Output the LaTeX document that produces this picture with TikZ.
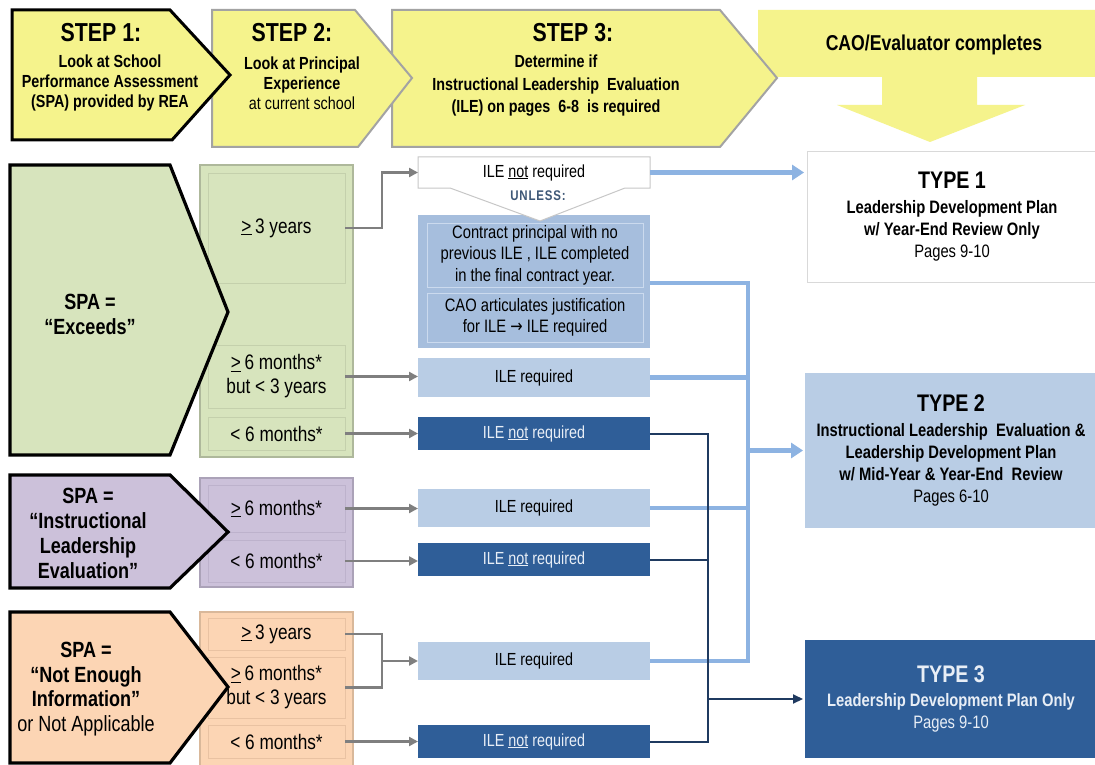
\documentclass[tikz,border=0pt]{standalone}
\usepackage{fontspec}
\setmainfont{Liberation Sans}[FakeStretch=0.82]
\newfontfamily\symfont{DejaVu Sans}[FakeStretch=0.82]
\usetikzlibrary{arrows.meta}

\newcommand\fsz[2]{\fontsize{#1}{#2}\selectfont}
\newcommand\atleast{\underline{>}\,}

\definecolor{stepyellow}{HTML}{F5F38C}
\definecolor{stepedge}{HTML}{A3A3A3}
\definecolor{greenfill}{HTML}{D7E4BD}
\definecolor{greenedge}{HTML}{AEB89B}
\definecolor{greeninner}{HTML}{C4D0AC}
\definecolor{purplefill}{HTML}{CCC1DA}
\definecolor{purpleedge}{HTML}{ABA2B8}
\definecolor{purpleinner}{HTML}{BDB2CC}
\definecolor{orangefill}{HTML}{FCD5B4}
\definecolor{orangeedge}{HTML}{D9B89A}
\definecolor{orangeinner}{HTML}{E9C2A2}
\definecolor{lightblue}{HTML}{B9CDE5}
\definecolor{midblue}{HTML}{A6BEDD}
\definecolor{midblueedge}{HTML}{CBDAEE}
\definecolor{darkblue}{HTML}{2F5E98}
\definecolor{paletext}{HTML}{E8EEF6}
\definecolor{busblue}{HTML}{8DB3E2}
\definecolor{busdark}{HTML}{1F3A60}
\definecolor{arrowgray}{HTML}{7F7F7F}
\definecolor{unlesscol}{HTML}{3E5877}

\begin{document}
\begin{tikzpicture}[x=1pt,y=-1pt,
  every node/.style={inner sep=0pt,outer sep=0pt,align=center},
  rbox/.style={rectangle},
  steptitle/.style={font=\fsz{26}{30}\bfseries},
  stepbody/.style={font=\fsz{17.5}{20}\bfseries},
  spatext/.style={font=\fsz{22}{25}\bfseries},
  yrs/.style={font=\fsz{21}{24}},
  iletext/.style={font=\fsz{17.5}{21.5}},
  typetext/.style={font=\fsz{18}{22}},
  greencol/.style={rbox,fill=greenfill,draw=greenedge,line width=1.2pt},
  greencell/.style={rbox,fill=greenfill,draw=greeninner,line width=1pt,yrs},
  purplecol/.style={rbox,fill=purplefill,draw=purpleedge,line width=1.2pt},
  purplecell/.style={rbox,fill=purplefill,draw=purpleinner,line width=1pt,yrs},
  orangecol/.style={rbox,fill=orangefill,draw=orangeedge,line width=1.2pt},
  orangecell/.style={rbox,fill=orangefill,draw=orangeinner,line width=1pt,yrs},
  ilereq/.style={rbox,fill=lightblue,iletext,minimum width=232pt},
  ilenot/.style={rbox,fill=darkblue,text=paletext,iletext,minimum width=232pt},
  spaedge/.style={draw=black,line width=3.2pt,line join=miter},
  grayarrow/.style={draw=arrowgray,line width=2.8pt,line join=miter,
    -{Triangle[length=9pt,width=9pt]}},
  grayline/.style={draw=arrowgray,line width=2.8pt,line join=miter},
  busline/.style={draw=busblue,line width=4.5pt,line join=miter},
  busarrow/.style={busline,-{Triangle[length=12pt,width=15pt]}},
  darkline/.style={draw=busdark,line width=2pt,line join=miter},
  darkarrow/.style={darkline,-{Triangle[length=10pt,width=9pt]}}
]
\clip (0,0) rectangle (1095,765);
\fill[white] (0,0) rectangle (1095,765);

% ---------- header: evaluator banner with its down arrow ----------
\fill[stepyellow] (758,10) -- (1100,10) -- (1100,77) -- (977,77) -- (977,105)
  -- (1025,105) -- (930,142) -- (837,105) -- (882,105) -- (882,77)
  -- (758,77) -- cycle;
\node[font=\fsz{21.5}{25}\bfseries] (cao) at (934,45) {CAO/Evaluator completes};

% ---------- header: the three steps ----------
\filldraw[fill=stepyellow,draw=stepedge,line width=2pt,line join=miter]
  (392,10) -- (720,10) -- (777,78) -- (720,147) -- (392,147) -- cycle;
\filldraw[fill=stepyellow,draw=stepedge,line width=2pt,line join=miter]
  (212,10) -- (355,10) -- (412,78) -- (358,147) -- (212,147) -- cycle;
\filldraw[fill=stepyellow,draw=black,line width=3pt,line join=miter]
  (12,10) -- (170,10) -- (230,75) -- (172,140) -- (12,140) -- cycle;

\node[steptitle] (s1title) at (101,33) {STEP 1:};
\node[stepbody] (s1body) at (110,83) {Look at School\\Performance Assessment\\(SPA) provided by REA};
\node[steptitle] (s2title) at (292,33) {STEP 2:};
\node[stepbody] (s2body) at (302,83) {Look at Principal\\Experience\\{\mdseries at current school}};
\node[steptitle] (s3title) at (573,33) {STEP 3:};
\node[stepbody,font=\fsz{17.5}{22.5}\bfseries] (s3body) at (556,86)
  {Determine if\\Instructional Leadership\ \ Evaluation\\(ILE) on pages\ \ 6-8\ \ is required};

% ---------- experience columns ----------
\node[greencol,minimum width=153pt,minimum height=292pt] (gcol) at (276.5,311) {};
\node[greencell,minimum width=137pt,minimum height=110pt] (g1) at (276.5,228) {\atleast 3 years};
\node[greencell,minimum width=137pt,minimum height=63pt] (g2) at (276.5,376.5) {\atleast 6 months*\\but < 3 years};
\node[greencell,minimum width=137pt,minimum height=33pt] (g3) at (276.5,433.5) {< 6 months*};

\node[purplecol,minimum width=153pt,minimum height=109pt] (pcol) at (276.5,532.5) {};
\node[purplecell,minimum width=137pt,minimum height=47pt] (p1) at (276.5,508.5) {\atleast 6 months*};
\node[purplecell,minimum width=137pt,minimum height=42pt] (p2) at (276.5,561) {< 6 months*};

\node[orangecol,minimum width=153pt,minimum height=158pt] (ocol) at (276.5,691) {};
\node[orangecell,minimum width=137pt,minimum height=32pt] (o1) at (276.5,634) {\atleast 3 years};
\node[orangecell,minimum width=137pt,minimum height=61pt] (o2) at (276.5,687.5) {\atleast 6 months*\\but < 3 years};
\node[orangecell,minimum width=137pt,minimum height=33pt] (o3) at (276.5,741.5) {< 6 months*};

% ---------- SPA arrows ----------
\filldraw[fill=greenfill,spaedge] (10,165) -- (170,165) -- (228,312) -- (170,455) -- (10,455) -- cycle;
\node[spatext] (spa1) at (90,314) {SPA =\\“Exceeds”};
\filldraw[fill=purplefill,spaedge] (10,475) -- (170,475) -- (228,532) -- (170,588) -- (10,588) -- cycle;
\node[spatext] (spa2) at (88,533) {SPA =\\“Instructional\\Leadership\\Evaluation”};
\filldraw[fill=orangefill,spaedge] (10,612) -- (170,612) -- (228,687) -- (170,763) -- (10,763) -- cycle;
\node[spatext,font=\fsz{22}{24.5}\bfseries] (spa3) at (86,689) {SPA =\\“Not Enough\\Information”\\{\mdseries or Not Applicable}};

% ---------- ILE decisions ----------
\node[rbox,fill=midblue,minimum width=232pt,minimum height=133pt] (unless) at (534,281.5) {};
\node[rbox,fill=midblue,draw=midblueedge,line width=1pt,iletext,font=\fsz{18}{21.5},
  minimum width=216pt,minimum height=64pt] (contract) at (535,255)
  {Contract principal with no\\previous ILE , ILE completed\\in the final contract year.};
\node[rbox,fill=midblue,draw=midblueedge,line width=1pt,iletext,font=\fsz{18}{21.5},
  minimum width=216pt,minimum height=49pt] (justify) at (535,317.5)
  {CAO articulates justification\\for ILE {\symfont →} ILE required};

\node[rbox,iletext,minimum width=232pt,minimum height=31pt] (ilenr0) at (534,172.5) {};
\filldraw[fill=white,draw=black!22,line width=1pt,line join=miter]
  (ilenr0.north west) -- (ilenr0.north east) -- (ilenr0.south east)
  -- (625,188) -- (540,221) -- (450,188) -- (ilenr0.south west) -- cycle;
\node[iletext] (ilenr0text) at (ilenr0) {ILE \underline{not} required};
\node[font=\fsz{14}{16}\bfseries\addfontfeature{LetterSpace=6},text=unlesscol] (unlesstext) at (538,196) {UNLESS:};

\node[ilereq,minimum height=39pt] (req1) at (534,377.5) {ILE required};
\node[ilenot,minimum height=33pt] (nr1) at (534,433.5) {ILE \underline{not} required};
\node[ilereq,minimum height=38pt] (req2) at (534,508) {ILE required};
\node[ilenot,minimum height=33pt] (nr2) at (534,559.5) {ILE \underline{not} required};
\node[ilereq,minimum height=38pt] (req3) at (534,661) {ILE required};
\node[ilenot,minimum height=33pt] (nr3) at (534,741.5) {ILE \underline{not} required};

% ---------- outcome types ----------
\node[rbox,fill=white,draw=black!15,line width=1pt,typetext,minimum width=290pt,minimum height=130pt] (type1) at (952,217)
  {{\fsz{24}{26}\bfseries TYPE 1}\\[3pt]{\bfseries Leadership Development Plan}\\{\bfseries w/ Year-End Review Only}\\Pages 9-10};
\node[rbox,fill=lightblue,typetext,minimum width=292pt,minimum height=155pt] (type2) at (951,450.5)
  {{\fsz{24}{26}\bfseries TYPE 2}\\[3pt]{\bfseries Instructional Leadership\ \ Evaluation \&}\\{\bfseries Leadership Development Plan}\\{\bfseries w/ Mid-Year \& Year-End\ \ Review}\\Pages 6-10};
\node[rbox,fill=darkblue,text=paletext,typetext,minimum width=292pt,minimum height=118pt] (type3) at (951,699)
  {{\fsz{24}{26}\bfseries TYPE 3}\\[2pt]{\bfseries Leadership Development Plan Only}\\Pages 9-10};

% ---------- gray connectors: experience -> decision ----------
\draw[grayarrow] (g1.east) -- ++(37,0) |- (ilenr0.west);
\draw[grayarrow] (g2.east) -- (g2.east -| req1.west);
\draw[grayarrow] (g3.east) -- (g3.east -| nr1.west);
\draw[grayarrow] (p1.east) -- (p1.east -| req2.west);
\draw[grayarrow] (p2.east) -- (p2.east -| nr2.west);
\draw[grayline] (o1.east) -- ++(37,0) coordinate (ojoin) |- (o2.east);
\draw[grayarrow] (ojoin |- req3.west) -- (req3.west);
\draw[grayarrow] (o3.east) -- (o3.east -| nr3.west);

% ---------- light blue bus: ILE required -> Type 2 ----------
\coordinate (bustop) at (748,283);
\draw[busarrow,shorten >=3pt] (ilenr0.east) -- (ilenr0.east -| type1.west);
\draw[busline] (unless.east |- bustop) -- (bustop) -- (bustop |- req3.east) -- (req3.east);
\draw[busline] (req1.east) -- (req1.east -| bustop);
\draw[busline] (req2.east) -- (req2.east -| bustop);
\draw[busarrow,shorten >=2pt] (bustop |- type2.west) -- (type2.west);

% ---------- dark bus: ILE not required -> Type 3 ----------
\coordinate (darkx) at (708,0);
\draw[darkline] (nr1.east) -- (nr1.east -| darkx) -- (darkx |- nr3.east) -- (nr3.east);
\draw[darkline] (nr2.east) -- (nr2.east -| darkx);
\draw[darkarrow,shorten >=2pt] (darkx |- type3.west) -- (type3.west);
\end{tikzpicture}
\end{document}
